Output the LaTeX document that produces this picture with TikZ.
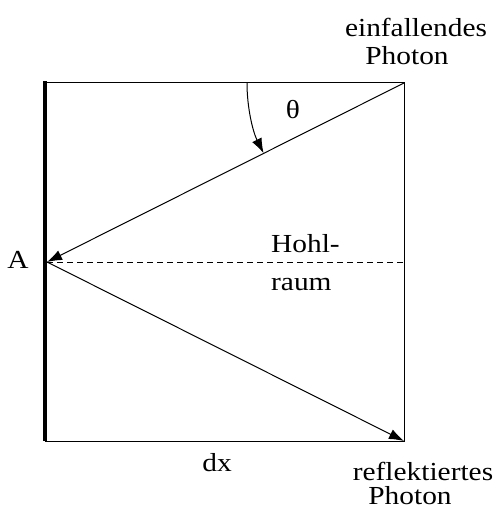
\documentclass[tikz,border=0pt]{standalone}
\usepackage{fontspec}
\setmainfont{Liberation Serif}[FakeStretch=1.13]
\usetikzlibrary{arrows.meta}
\begin{document}
\begin{tikzpicture}[x=1pt,y=1pt,
  thin line/.style={line width=1pt},
  wall/.style={line width=4pt},
  arr/.style={line width=1pt,-{Latex[length=15pt,width=10.5pt]}},
  lbl/.style={inner sep=0pt,anchor=base,font=\fontsize{26}{31}\selectfont},
  lblw/.style={inner sep=0pt,anchor=base west,font=\fontsize{26}{31}\selectfont}]
\useasboundingbox (0,0) rectangle (497,-510);
\coordinate (TL) at (45,-83);
\coordinate (TR) at (404,-83);
\coordinate (BR) at (404,-441);
\coordinate (BL) at (45,-441);
\coordinate (A) at (47,-262);
\coordinate (D) at (404,-262);
\coordinate (ArcStart) at (247,-83);
% box
\draw[thin line] (TL) -- (TR) -- (BR) -- (BL);
\draw[wall] (45,-81.5) -- (BL);
% rays
\draw[arr] (TR) -- (A);
\draw[arr] (A) -- (BR);
\draw[thin line,dashed,dash pattern=on 6pt off 4pt] (A) -- (D);
% angle
\draw[arr] (ArcStart) arc[start angle=180,end angle=206.6,radius=157];
% labels
\node[lbl] (theta) at (293,-119) {θ};
\node[lbl] (einf) at (416,-37) {einfallendes};
\node[lbl] (ph1) at (407,-65) {Photon};
\node[lbl] (refl) at (423,-480) {reflektiertes};
\node[lbl] (ph2) at (410,-504) {Photon};
\node[lblw] (hohl) at (271,-252) {Hohl-};
\node[lblw] (raum) at (271,-290) {raum};
\node[lbl] (dx) at (217,-471) {dx};
\node[lbl] (Alab) at (18,-268) {A};
\end{tikzpicture}
\end{document}
